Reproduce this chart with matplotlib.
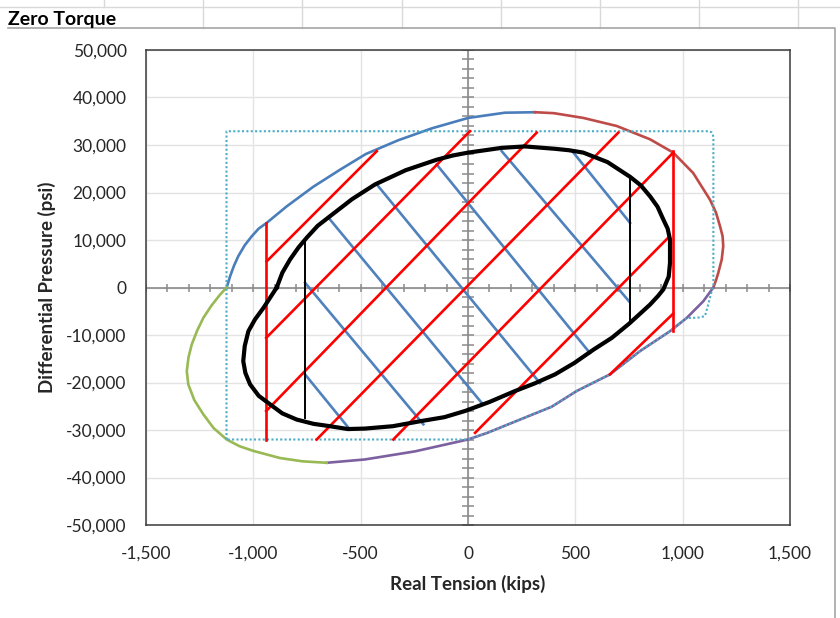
import numpy as np
import matplotlib
matplotlib.use("Agg")
from matplotlib import pyplot as plt
from matplotlib.lines import Line2D

plt.rcParams['font.family'] = ['Lato', 'DejaVu Sans']

# outer envelope, one piece per quadrant (kips, psi)
env_q2_x = [-1124, -1108, -1090, -1070, -1040, -1007, -975, -938, -844, -721, -596, -476,
            -325, -169, 1, 172, 312]
env_q2_y = [0, 2400, 4600, 6600, 8900, 10800, 12400, 13600, 17100, 21200, 24800, 28100,
            31000, 33500, 35700, 36800, 36900]
env_q1_x = [312, 400, 537, 693, 848, 956, 1049, 1127, 1155, 1174, 1186, 1189, 1182, 1166,
            1155, 1143]
env_q1_y = [36900, 36700, 35700, 34000, 31200, 28400, 24100, 18500, 15800, 12900, 10800,
            8700, 5900, 3100, 1500, 0]
env_q4_x = [1143, 1096, 1019, 941, 801, 661, 506, 390, 188, 90, 0, -247, -480, -658]
env_q4_y = [0, -2900, -6400, -9200, -13400, -18300, -21800, -25100, -28800, -30600, -32000,
            -34500, -36200, -36900]
env_q3_x = [-658, -770, -876, -1000, -1065, -1124, -1185, -1233, -1275, -1303, -1310, -1302,
            -1287, -1262, -1233, -1195, -1155, -1124]
env_q3_y = [-36900, -36600, -35900, -34400, -33400, -32000, -29600, -26700, -23700, -20400,
            -17600, -14700, -12000, -9100, -6400, -3800, -1500, 0]

# dotted limit box
box_x = [-1125, -1125, 1120, 1134, 1141, 1143, 1143, 1135, 1119, 1104, 1080, 1049, 1019,
         941, 801, 661, 506, 390, 188, 90, 0, -1125]
box_y = [-32000, 32900, 32900, 32700, 32200, 31200, 300, -800, -3600, -6000, -6300, -6400,
         -6400, -9200, -13400, -18300, -21800, -25100, -28800, -30600, -32000, -32000]

# thick black operating curve
core_x = [-891, -865, -829, -790, -751, -700, -643, -540, -433, -290, -146, -70, 1, 157,
          265, 405, 470, 537, 650, 755, 805, 848, 883, 910, 930, 941, 941, 935, 910, 885,
          848, 751, 670, 584, 495, 405, 310, 219, 100, -14, -110, -216, -350, -480, -560,
          -643, -720, -798, -865, -922, -975, -1015, -1037, -1047, -1040, -1023, -992, -953,
          -891]
core_y = [0, 3100, 5900, 8400, 10500, 13000, 15000, 18600, 21700, 24700, 26900, 27800,
          28400, 29400, 29700, 29200, 28900, 28400, 26400, 23300, 21500, 19200, 17000, 14300,
          12400, 10100, 5200, 2300, -400, -1800, -3600, -7600, -10600, -13100, -15900,
          -18300, -20200, -21800, -24100, -26000, -27300, -28100, -29200, -29700, -29800,
          -29200, -28700, -27800, -26500, -24600, -22800, -20400, -18000, -15500, -12300,
          -9200, -6700, -4300, 0]

# red hatch segments
red_x = [[-940, -940], [-938, -425], [-940, 9], [-940, 320], [-705, 700],
         [-348, 956], [33, 933], [661, 956], [956, 956]]
red_y = [[13600, -32000], [5500, 28700], [-10600, 32900], [-26000, 32600], [-32000, 32600],
         [-32000, 28400], [-30600, 10500], [-18300, -5500], [28700, -9200]]

# blue hatch segments
blue_x = [[-650, 64], [-759, -208], [-759, -550], [-425, 335], [-146, 568], [157, 750], [491, 755]]
blue_y = [[14700, -24300], [1000, -28800], [-18300, -29900], [21700, -20100],
          [25900, -13800], [28700, -2900], [28400, 13600]]

# thin black verticals
thin_x = [[-759, -759], [755, 755]]
thin_y = [[10300, -27400], [23000, -7400]]

x_ticks = [-1500, -1000, -500, 0, 500, 1000, 1500]
y_ticks = [-50000, -40000, -30000, -20000, -10000, 0, 10000, 20000, 30000, 40000, 50000]


def fig_line(fig, xs, ys, **kw):
    fig.add_artist(Line2D([x / 840 for x in xs], [1 - y / 618 for y in ys],
                          transform=fig.transFigure, **kw))


def produce_graph():
    fig = plt.figure(figsize=(8.4, 6.18), dpi=100)
    ax = fig.add_axes([146 / 840, 1 - 525 / 618, 644 / 840, 475 / 618])

    # spreadsheet cells behind the chart
    fig_line(fig, [0, 840], [7, 7], color='#d9d9d9', lw=1)
    for gx in [104, 203, 302, 402, 501, 600, 699, 798]:
        bottom = 7 if gx == 104 else 28
        fig_line(fig, [gx, gx], [0, bottom], color='#d9d9d9', lw=1)
    fig_line(fig, [8, 835, 835], [28, 28, 618], color='#a6a6a6', lw=1.2)
    fig.text(8 / 840, 1 - 20 / 618, 'Zero Torque', fontsize=14, fontweight='bold',
             va='center', ha='left')

    ax.set_xlim(-1500, 1500)
    ax.set_ylim(-50000, 50000)
    ax.set_xticks(x_ticks)
    ax.set_yticks(y_ticks)
    ax.set_xticklabels(['{:,}'.format(v) for v in x_ticks])
    ax.set_yticklabels(['{:,}'.format(v) for v in y_ticks])
    ax.tick_params(length=0, labelsize=12.5, colors='#262626')
    ax.tick_params(axis='x', pad=15)
    ax.tick_params(axis='y', pad=14)
    ax.grid(True, color='#e3e3e3', lw=1)
    ax.set_axisbelow(True)
    for sp in ax.spines.values():
        sp.set_color('#3a3a3a')
        sp.set_linewidth(1.1)

    # axes through the origin with cross ticks
    ax.axhline(0, color='#8a8a8a', lw=1.2, zorder=1)
    ax.axvline(0, color='#8a8a8a', lw=1.2, zorder=1)
    mx = np.arange(-1500, 1501, 100)
    my = np.arange(-50000, 50001, 2000)
    ax.plot(mx, np.zeros_like(mx), ls='none', marker='|', ms=6, mew=1.1, color='#8a8a8a', zorder=1)
    ax.plot(np.zeros_like(my), my, ls='none', marker='_', ms=8, mew=1.1, color='#8a8a8a', zorder=1)

    ax.plot(env_q2_x, env_q2_y, color='#4a7ebb', lw=1.9, zorder=2)
    ax.plot(env_q1_x, env_q1_y, color='#be4b48', lw=1.9, zorder=2)
    ax.plot(env_q4_x, env_q4_y, color='#7d60a0', lw=1.9, zorder=2)
    ax.plot(env_q3_x, env_q3_y, color='#98b954', lw=1.9, zorder=2)

    ax.plot(box_x, box_y, color='#4bacc6', lw=1.5, ls=(0, (1, 1.1)), zorder=2.5)

    for xs, ys in zip(blue_x, blue_y):
        ax.plot(xs, ys, color='#4f81bd', lw=1.9, zorder=3)
    for xs, ys in zip(red_x, red_y):
        ax.plot(xs, ys, color='#ff0000', lw=1.9, zorder=3.2)
    for xs, ys in zip(thin_x, thin_y):
        ax.plot(xs, ys, color='#000000', lw=1.4, zorder=3.4)

    ax.plot(core_x, core_y, color='#000000', lw=3, zorder=4, solid_joinstyle='round')

    ax.set_xlabel('Real Tension (kips)', fontsize=13.5, fontweight='bold', color='#262626')
    ax.set_ylabel('Differential Pressure (psi)', fontsize=13.5, fontweight='bold', color='#262626')
    ax.xaxis.label.set_va('center')
    ax.yaxis.label.set_va('center')
    ax.xaxis.set_label_coords(0.5, (525 - 584) / 475)
    ax.yaxis.set_label_coords((47 - 146) / 644, 0.5)

    fig.savefig('out.png', dpi=100)


if __name__ == "__main__":
    produce_graph()
